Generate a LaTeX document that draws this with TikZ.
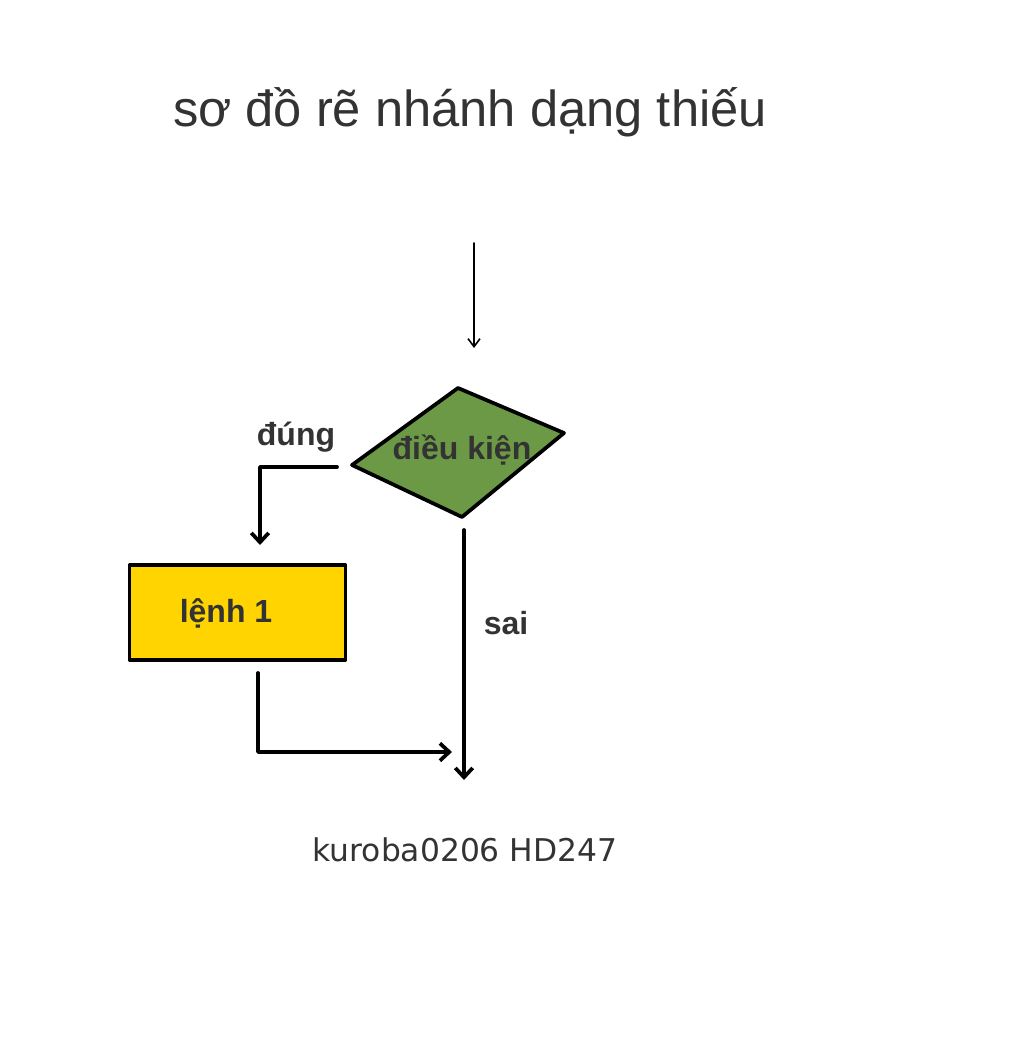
\documentclass[tikz,border=0pt]{standalone}
\usepackage{fontspec}
\setmainfont{Liberation Sans}
\newfontfamily\zeichenfont{DejaVu Sans}
\usetikzlibrary{arrows.meta}

\definecolor{rautegruen}{RGB}{107,153,69}
\definecolor{kastengelb}{RGB}{255,212,0}
\definecolor{textgrau}{RGB}{51,51,51}

\tikzset{
  pfeil/.style={-{Straight Barb[length=7pt,width=13pt]}, line width=2.8pt},
  beschriftung/.style={text=textgrau, font=\bfseries\fontsize{24}{26}\selectfont}
}

\begin{document}
\begin{tikzpicture}[line cap=round, line join=round, x=0.75pt, y=-0.75pt]
  \useasboundingbox (0,0) rectangle (1024,1046);

  % Titel
  \node[text=textgrau, font=\fontsize{38}{42}\selectfont] (titel) at (470,112) {sơ đồ rẽ nhánh dạng thiếu};

  % Eingangspfeil
  \coordinate (eingang) at (474,243);
  \coordinate (eingangEnde) at (474,348);
  \draw[-{Straight Barb[length=6pt,width=9pt]}, line width=1.2pt] (eingang) -- (eingangEnde);

  % Raute mit der Bedingung
  \coordinate (rO) at (458,388);
  \coordinate (rR) at (564,433);
  \coordinate (rU) at (462,517);
  \coordinate (rL) at (352,465);
  \draw[line width=2.8pt, fill=rautegruen] (rO) -- (rR) -- (rU) -- (rL) -- cycle;
  \node[beschriftung] (bedingung) at (462,450) {điều kiện};

  % Kasten fuer den Befehl
  \node[draw, line width=2.8pt, fill=kastengelb, minimum width=162pt, minimum height=71pt,
        beschriftung] (befehl) at (237.5,612.5) {};
  \node[beschriftung] (befehlText) at (226,613) {lệnh 1};

  % Zweig "đúng": von der Raute zum Befehl
  \coordinate (jaStart) at (337,467);
  \coordinate (jaEnde) at (260,545);
  \draw[pfeil] (jaStart) -| (jaEnde);
  \node[beschriftung] (ja) at (296,437) {đúng};

  % Zweig "sai": gerade nach unten
  \coordinate (neinStart) at (464,530);
  \coordinate (neinEnde) at (464,780);
  \draw[pfeil] (neinStart) -- (neinEnde);
  \node[beschriftung] (nein) at (506,623) {sai};

  % nach dem Befehl zurueck zum Hauptweg
  \coordinate (befStart) at (258,673);
  \coordinate (befEnde) at (452,752);
  \draw[pfeil] (befStart) |- (befEnde);

  % Zeichen unten
  \node[text=textgrau, font=\zeichenfont\fontsize{23.5}{26}\selectfont] (zeichen) at (465,850) {kuroba0206 HD247};
\end{tikzpicture}
\end{document}
